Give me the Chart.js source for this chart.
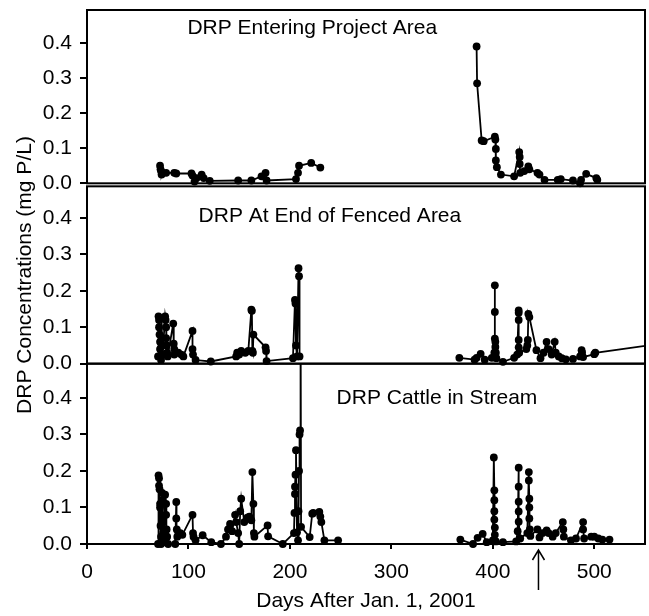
<!DOCTYPE html>
<html>
<head>
<meta charset="utf-8">
<script src="https://cdn.jsdelivr.net/npm/chart.js@4/dist/chart.umd.min.js"></script>
<style>
  body { margin: 0; background: #fff; }
</style>
</head>
<body>
<canvas id="drpChart" width="649" height="616"></canvas>
<script>
// days after Jan. 1, 2001 and DRP (mg P/L)
var entDays01 = [72, 72.5, 73, 73.5, 74, 78, 86, 88, 103, 104, 106, 108, 113, 115, 121, 149, 162, 172, 176, 177, 206, 208, 209, 221, 230];
var entVals01 = [0.05, 0.04, 0.035, 0.025, 0.03, 0.03, 0.03, 0.028, 0.028, 0.022, 0.005, 0.015, 0.025, 0.015, 0.007, 0.008, 0.008, 0.02, 0.03, 0.008, 0.012, 0.03, 0.05, 0.058, 0.045];
var entDays02 = [384, 384.5, 389, 391, 402, 402.5, 403, 403, 404, 408, 421, 426, 426.5, 426.5, 427, 431, 435, 436, 444, 446, 451, 464, 467, 479, 486, 487, 492, 502, 503];
var entVals02 = [0.39, 0.285, 0.122, 0.12, 0.133, 0.125, 0.098, 0.065, 0.046, 0.025, 0.02, 0.089, 0.075, 0.055, 0.03, 0.035, 0.048, 0.04, 0.03, 0.025, 0.01, 0.01, 0.012, 0.008, 0.0, 0.01, 0.027, 0.015, 0.01];

var fenDays01 = [70, 70.5, 71, 71, 71.5, 72, 72, 72.5, 73, 73.5, 74, 74.5, 77, 77.5, 78, 78, 78.5, 79, 79.5, 85, 85.5, 86, 86, 90, 93, 95, 104, 104, 104.5, 107, 122, 147, 148, 150, 152, 156, 159, 162, 162.5, 163, 163.5, 164, 176, 176.5, 177, 203, 205, 205.5, 206, 207, 208.5, 209, 209.5];
var fenVals01 = [0.02, 0.13, 0.12, 0.1, 0.08, 0.06, 0.04, 0.02, 0.01, 0.125, 0.05, 0.025, 0.13, 0.12, 0.1, 0.07, 0.05, 0.03, 0.02, 0.11, 0.055, 0.04, 0.025, 0.03, 0.025, 0.02, 0.09, 0.04, 0.025, 0.01, 0.006, 0.02, 0.03, 0.025, 0.035, 0.03, 0.035, 0.148, 0.145, 0.035, 0.03, 0.08, 0.045, 0.035, 0.007, 0.015, 0.175, 0.165, 0.05, 0.02, 0.262, 0.24, 0.02];
var fenDays02 = [367, 382, 384, 388, 392, 399, 401.5, 402, 402, 402, 402.5, 402.5, 403, 403.5, 410, 421, 424, 425.5, 425.5, 425.5, 425.5, 425.5, 426, 433, 434, 434.5, 435, 436, 443, 447, 450, 453, 455, 458, 461, 462, 465, 468, 472, 479, 486, 487.5, 488, 489, 500, 501, 600];
var fenVals02 = [0.016, 0.011, 0.016, 0.027, 0.011, 0.016, 0.03, 0.215, 0.142, 0.069, 0.06, 0.046, 0.03, 0.015, 0.005, 0.016, 0.025, 0.146, 0.14, 0.12, 0.065, 0.045, 0.03, 0.04, 0.05, 0.065, 0.137, 0.128, 0.037, 0.015, 0.03, 0.06, 0.04, 0.025, 0.06, 0.03, 0.02, 0.015, 0.012, 0.013, 0.02, 0.037, 0.03, 0.018, 0.026, 0.03, 0.068];

var catDays01 = [70, 70.5, 71, 71, 71.5, 72, 72, 72.5, 73, 73, 74, 74.5, 75, 75, 76, 77, 78, 78, 78.5, 79, 80, 87, 88, 88, 88.5, 89, 92, 94, 104, 104.5, 105, 107, 114, 122.5, 132, 137, 139, 141, 143, 146, 147, 149, 150, 151, 152, 155, 158, 160, 162, 163, 164, 164.5, 165, 178, 178.5, 193, 204, 204.5, 205, 205, 205.5, 206, 207, 208, 208.5, 209, 209.5, 210, 210.5, 211, 219.5, 222, 223, 229, 230, 231, 234, 247.5];
var catVals01 = [0.0, 0.188, 0.18, 0.16, 0.15, 0.11, 0.1, 0.05, 0.02, 0.0, 0.14, 0.12, 0.06, 0.03, 0.005, 0.135, 0.11, 0.08, 0.04, 0.02, 0.0, 0.0, 0.115, 0.07, 0.04, 0.02, 0.03, 0.025, 0.08, 0.03, 0.02, 0.01, 0.024, 0.005, 0.0, 0.02, 0.04, 0.055, 0.035, 0.08, 0.06, 0.03, 0.0, 0.09, 0.124, 0.06, 0.072, 0.075, 0.065, 0.197, 0.11, 0.03, 0.02, 0.051, 0.021, 0.0, 0.03, 0.085, 0.137, 0.157, 0.19, 0.257, 0.032, 0.01, 0.09, 0.2, 0.3, 0.311, 0.7, 0.047, 0.019, 0.083, 0.085, 0.088, 0.075, 0.06, 0.01, 0.01];
var catDays02 = [368, 380.5, 385, 390, 394, 400, 401, 401.5, 401.5, 401.5, 401.5, 402, 402, 403, 410, 423, 424.5, 425.5, 425.5, 425.5, 425.5, 425.5, 427, 434, 435.5, 435.5, 436, 436, 436, 436.5, 437, 444, 446, 449, 453, 455, 459, 462, 469, 469.5, 470, 477, 482, 489, 489, 490, 497, 500, 504, 508, 515];
var catVals02 = [0.012, 0.0, 0.017, 0.028, 0.005, 0.01, 0.237, 0.147, 0.12, 0.09, 0.067, 0.045, 0.025, 0.007, 0.005, 0.007, 0.035, 0.209, 0.157, 0.116, 0.089, 0.061, 0.015, 0.03, 0.197, 0.174, 0.124, 0.1, 0.07, 0.04, 0.022, 0.04, 0.018, 0.03, 0.037, 0.03, 0.02, 0.03, 0.06, 0.04, 0.02, 0.01, 0.015, 0.06, 0.04, 0.015, 0.02, 0.02, 0.015, 0.012, 0.012];

var panelTitles = ['DRP Entering Project Area', 'DRP At End of Fenced Area', 'DRP Cattle in Stream'];
var xTitle = 'Days After Jan. 1, 2001';
var yTitle = 'DRP Concentrations (mg P/L)';

Chart.defaults.font.family = '"Liberation Sans", Arial, sans-serif';
Chart.defaults.font.size = 21;
Chart.defaults.color = '#000';

function pts(days, vals) {
    return days.map(function (d, i) { return { x: d, y: vals[i] }; });
}

function series(days, vals, axis) {
    return {
        data: pts(days, vals),
        yAxisID: axis,
        borderColor: '#000',
        borderWidth: 1.8,
        backgroundColor: '#000',
        pointBackgroundColor: '#000',
        pointBorderWidth: 0,
        pointRadius: 3.9,
        tension: 0,
        clip: 8
    };
}

// no extra room for half tick labels, the frame sits where the reference has it
function noPad(s) {
    s.paddingTop = 0;
    s.paddingBottom = 0;
    s.paddingLeft = 0;
    s.paddingRight = 0;
}

function yAxis(min, max, weight, showTitle) {
    return {
        type: 'linear',
        position: 'left',
        stack: 'drp',
        stackWeight: weight,
        min: min,
        max: max,
        border: { display: false },
        grid: { drawOnChartArea: false, color: '#000', lineWidth: 2, tickLength: 7 },
        ticks: {
            stepSize: 0.1,
            autoSkip: false,
            includeBounds: false,
            padding: 8,
            callback: function (v) { return v.toFixed(1); }
        },
        title: { display: showTitle, text: yTitle, padding: { top: 13, bottom: 0 } },
        afterFit: function (s) { s.width = 87; noPad(s); }
    };
}

// frames, panel labels, clip of each panel and the arrow under the axis
var panelPlugin = {
    id: 'panels',
    beforeDatasetDraw: function (chart, args) {
        var ys = args.meta.yScale, a = chart.chartArea, ctx = chart.ctx;
        ctx.save();
        ctx.beginPath();
        ctx.rect(a.left - 6, ys.top, a.right - a.left + 6, ys.bottom - ys.top + 6);
        ctx.clip();
    },
    afterDatasetDraw: function (chart) {
        chart.ctx.restore();
    },
    afterDraw: function (chart, args, opts) {
        var ctx = chart.ctx, a = chart.chartArea, xs = chart.scales.x;
        ctx.save();
        ctx.strokeStyle = '#000';
        ctx.lineWidth = 2;
        opts.axes.forEach(function (id, i) {
            var ys = chart.scales[id];
            var bottom = ys.getPixelForValue(0);
            ctx.strokeRect(a.left, ys.top, a.right - a.left, bottom - ys.top);
            ctx.fillStyle = '#000';
            ctx.font = '21px "Liberation Sans", Arial, sans-serif';
            ctx.textAlign = 'left';
            ctx.textBaseline = 'alphabetic';
            var an = opts.anchors[i];
            ctx.fillText(panelTitles[i], xs.getPixelForValue(an[0]), ys.getPixelForValue(an[1]));
        });
        // arrow
        var ax = xs.getPixelForValue(opts.arrowDay);
        var tip = xs.top + 6, tail = xs.top + 46;
        ctx.lineWidth = 1.5;
        ctx.beginPath();
        ctx.moveTo(ax, tail);
        ctx.lineTo(ax, tip);
        ctx.moveTo(ax - 6, tip + 10);
        ctx.lineTo(ax, tip);
        ctx.lineTo(ax + 6, tip + 10);
        ctx.stroke();
        ctx.restore();
    }
};

var ctx = document.getElementById('drpChart').getContext('2d');
var drpChart = new Chart(ctx, {
    type: 'line',
    data: {
        datasets: [
            series(entDays01, entVals01, 'yEnt'),
            series(entDays02, entVals02, 'yEnt'),
            series(fenDays01, fenVals01, 'yFen'),
            series(fenDays02, fenVals02, 'yFen'),
            series(catDays01, catVals01, 'yCat'),
            series(catDays02, catVals02, 'yCat')
        ]
    },
    options: {
        responsive: false,
        animation: false,
        events: [],
        layout: { padding: { top: 10, right: 4, left: 0, bottom: 0 } },
        plugins: {
            legend: { display: false },
            tooltip: { enabled: false },
            panels: {
                axes: ['yEnt', 'yFen', 'yCat'],
                anchors: [[99, 0.425], [110, 0.389], [246, 0.383]],
                arrowDay: 445
            }
        },
        scales: {
            x: {
                type: 'linear',
                position: 'bottom',
                min: 0,
                max: 550,
                border: { display: false },
                grid: { drawOnChartArea: false, color: '#000', lineWidth: 2, tickLength: 5 },
                ticks: { stepSize: 100, includeBounds: false, padding: 11, maxRotation: 0, autoSkip: false },
                title: { display: true, text: xTitle, padding: { top: 0, bottom: 2 } },
                afterFit: function (s) { s.height = 72; noPad(s); }
            },
            // stacked left axes: last one listed is placed on top
            yCat: yAxis(0, 0.494, 180, false),
            yFen: yAxis(0, 0.487, 177, true),
            yEnt: yAxis(-0.0086, 0.494, 176, false)
        }
    },
    plugins: [panelPlugin]
});
</script>
</body>
</html>
